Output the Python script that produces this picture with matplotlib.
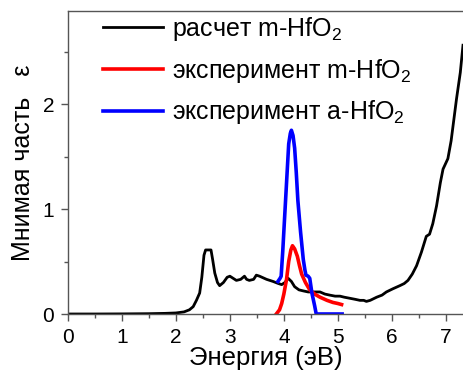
import numpy as np
import matplotlib
matplotlib.use("Agg")
import matplotlib.pyplot as plt
from matplotlib.ticker import MultipleLocator

plt.rcParams['font.family'] = ['Liberation Sans', 'DejaVu Sans']
plt.rcParams['mathtext.fontset'] = 'custom'
plt.rcParams['mathtext.rm'] = 'Liberation Sans'
plt.rcParams['mathtext.it'] = 'Liberation Sans'

# calculated m-HfO2 (black)
calc_E = [0.0, 0.5, 1.0, 1.5, 1.8, 2.0, 2.15, 2.25, 2.32, 2.38, 2.44, 2.48, 2.52, 2.55, 2.6, 2.65,
          2.68, 2.72, 2.77, 2.81, 2.88, 2.95, 3.0, 3.06, 3.12, 3.2, 3.27, 3.31, 3.36, 3.44, 3.49,
          3.55, 3.68, 3.8, 3.9, 3.96, 4.02, 4.08, 4.14, 4.2, 4.28, 4.36, 4.45, 4.54, 4.67, 4.76,
          4.85, 4.95, 5.04, 5.12, 5.22, 5.32, 5.41, 5.48, 5.53, 5.6, 5.72, 5.82, 5.9, 6.02, 6.15,
          6.23, 6.3, 6.38, 6.46, 6.55, 6.64, 6.7, 6.76, 6.83, 6.9, 6.95, 7.04, 7.1, 7.2, 7.27, 7.32]
calc_v = [0.0, 0.0, 0.001, 0.003, 0.006, 0.01, 0.02, 0.04, 0.07, 0.13, 0.2, 0.35, 0.56, 0.61, 0.61, 0.61,
          0.52, 0.39, 0.3, 0.27, 0.3, 0.35, 0.36, 0.34, 0.32, 0.33, 0.36, 0.33, 0.32, 0.33, 0.37,
          0.36, 0.33, 0.31, 0.29, 0.28, 0.3, 0.34, 0.31, 0.26, 0.23, 0.22, 0.21, 0.21, 0.21, 0.19,
          0.18, 0.17, 0.17, 0.16, 0.15, 0.14, 0.13, 0.13, 0.12, 0.13, 0.16, 0.18, 0.21, 0.24, 0.27,
          0.29, 0.32, 0.38, 0.46, 0.59, 0.74, 0.76, 0.86, 1.03, 1.25, 1.38, 1.48, 1.65, 2.05, 2.3, 2.56]

# experiment m-HfO2 (red)
expm_E = [3.86, 3.92, 3.96, 4.0, 4.05, 4.09, 4.13, 4.16, 4.2, 4.25, 4.29, 4.33, 4.4, 4.48,
          4.57, 4.67, 4.8, 4.91, 5.0, 5.07]
expm_v = [0.0, 0.04, 0.1, 0.19, 0.33, 0.5, 0.61, 0.65, 0.62, 0.55, 0.46, 0.38, 0.3, 0.23,
          0.19, 0.16, 0.13, 0.11, 0.1, 0.09]

# experiment a-HfO2 (blue)
expa_E = [3.89, 3.93, 3.95, 3.98, 4.01, 4.05, 4.09, 4.12, 4.14, 4.17, 4.2, 4.23, 4.26, 4.31,
          4.36, 4.39, 4.41, 4.45, 4.48, 4.52, 4.57, 4.6, 4.8, 5.08]
expa_v = [0.31, 0.34, 0.36, 0.6, 0.88, 1.25, 1.62, 1.72, 1.75, 1.7, 1.58, 1.35, 1.08, 0.78,
          0.52, 0.42, 0.37, 0.36, 0.34, 0.2, 0.08, 0.0, 0.0, 0.0]

fig = plt.figure(figsize=(4.63, 3.72), dpi=100)
ax = fig.add_axes([68 / 463, 58 / 372, 395 / 463, 303 / 372])

ax.plot(calc_E, calc_v, color='black', lw=2.0, label='расчет m-HfO$_2$')
ax.plot(expm_E, expm_v, color='#ff0000', lw=2.6, label='эксперимент m-HfO$_2$')
ax.plot(expa_E, expa_v, color='#0000ff', lw=2.6, label='эксперимент a-HfO$_2$')

ax.set_xlim(0, 7.32)
ax.set_ylim(0, 2.886)
ax.xaxis.set_major_locator(MultipleLocator(1))
ax.xaxis.set_minor_locator(MultipleLocator(0.5))
ax.yaxis.set_major_locator(MultipleLocator(1))
ax.yaxis.set_minor_locator(MultipleLocator(0.5))
ax.tick_params(which='major', direction='out', length=5, width=1, color='#555555',
               labelsize=15, pad=5)
ax.tick_params(which='minor', direction='out', length=3, width=1, color='#555555')
ax.spines['right'].set_visible(False)
for s in ['left', 'top', 'bottom']:
    ax.spines[s].set_color('#555555')
    ax.spines[s].set_linewidth(1.0)

ax.set_xlabel('Энергия (эВ)', fontsize=18.5, labelpad=-1)
ax.set_ylabel('Мнимая часть   ε', fontsize=18, labelpad=5)

ax.legend(loc='upper left', bbox_to_anchor=(0.045, 1.045), frameon=False, fontsize=18,
          handlelength=2.4, handletextpad=0.35, labelspacing=0.55, borderaxespad=0.3)

fig.savefig('out.png', dpi=100)
